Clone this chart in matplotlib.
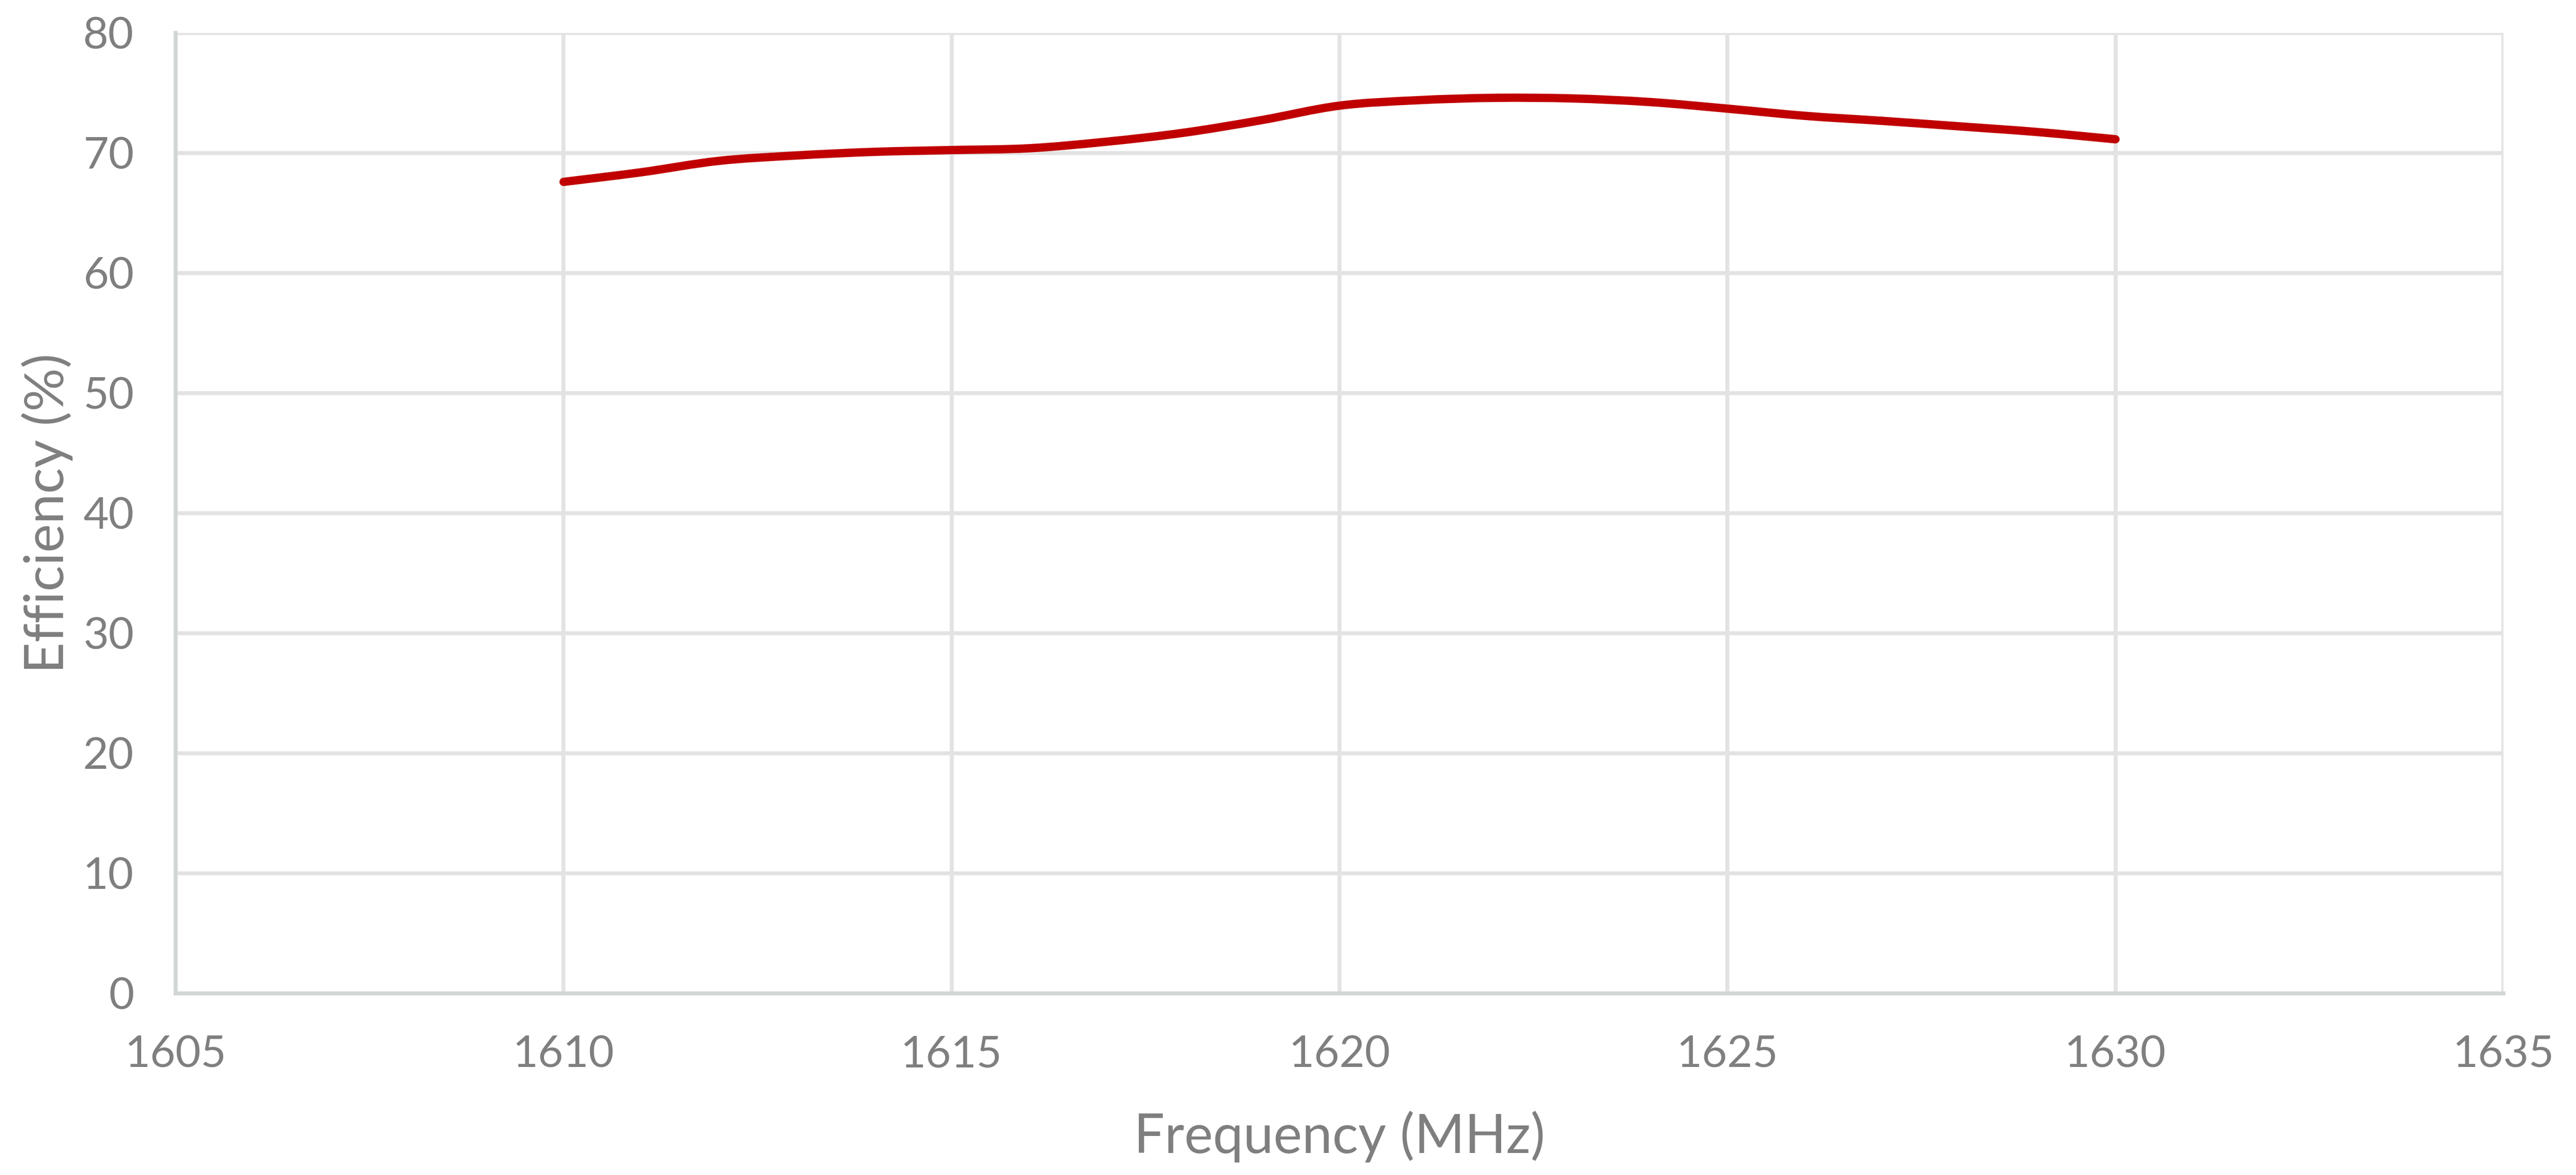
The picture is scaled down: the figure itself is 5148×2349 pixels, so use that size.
import matplotlib
matplotlib.use("Agg")
import matplotlib.pyplot as plt
from matplotlib.path import Path
from matplotlib.patches import PathPatch
import numpy as np

plt.rcParams['font.family'] = ['Lato', 'DejaVu Sans']

freq = [1610, 1611, 1612, 1613, 1614, 1615, 1616, 1617, 1618, 1619, 1620,
        1621, 1622, 1623, 1624, 1625, 1626, 1627, 1628, 1629, 1630]
efficiency = [67.6, 68.4, 69.35, 69.8, 70.1, 70.25, 70.4, 70.95, 71.7, 72.75, 73.95,
              74.4, 74.6, 74.55, 74.25, 73.7, 73.1, 72.68, 72.22, 71.75, 71.15]
xticks = [1605, 1610, 1615, 1620, 1625, 1630, 1635]
yticks = [0, 10, 20, 30, 40, 50, 60, 70, 80]

W, H, DPI = 5148, 2349, 300
fig = plt.figure(figsize=(W / DPI, H / DPI), dpi=DPI)
ax = fig.add_axes([351 / W, 1 - 1986 / H, (5003 - 351) / W, (1986 - 66) / H])

# smooth curve (Excel-style) through the points using cubic Bezier segments
x = np.array(freq, float)
y = np.array(efficiency, float)
verts = [(x[0], y[0])]
codes = [Path.MOVETO]
n = len(x)
for i in range(n - 1):
    p0 = (x[i - 1], y[i - 1]) if i > 0 else (x[i], y[i])
    p1 = (x[i], y[i])
    p2 = (x[i + 1], y[i + 1])
    p3 = (x[i + 2], y[i + 2]) if i + 2 < n else (x[i + 1], y[i + 1])
    c1 = (p1[0] + (p2[0] - p0[0]) / 6, p1[1] + (p2[1] - p0[1]) / 6)
    c2 = (p2[0] - (p3[0] - p1[0]) / 6, p2[1] - (p3[1] - p1[1]) / 6)
    verts += [c1, c2, p2]
    codes += [Path.CURVE4] * 3
patch = PathPatch(Path(verts, codes), facecolor='none', edgecolor='#C00000',
                  linewidth=4.0, capstyle='round', joinstyle='round', zorder=3)
ax.add_patch(patch)

ax.set_xlim(1605, 1635)
ax.set_ylim(0, 80)
ax.set_xticks(xticks)
ax.set_yticks(yticks)
ax.grid(True, color='#E3E3E3', linewidth=1.9)
ax.set_axisbelow(True)
for s in ['top', 'right']:
    ax.spines[s].set_visible(False)
for s in ['left', 'bottom']:
    ax.spines[s].set_color('#D2D6D6')
    ax.spines[s].set_linewidth(1.9)
ax.tick_params(axis='both', length=0, colors='#7F7F7F', labelsize=21)
ax.tick_params(axis='y', pad=20)
ax.tick_params(axis='x', pad=20)

ax.set_xlabel('Frequency (MHz)', fontsize=26, color='#7F7F7F')
ax.set_ylabel('Efficiency (%)', fontsize=26, color='#7F7F7F')
ax.xaxis.set_label_coords(0.5, -0.122)
ax.yaxis.set_label_coords(-0.044, 0.5)

fig.savefig('out.png', dpi=DPI, facecolor='white')
